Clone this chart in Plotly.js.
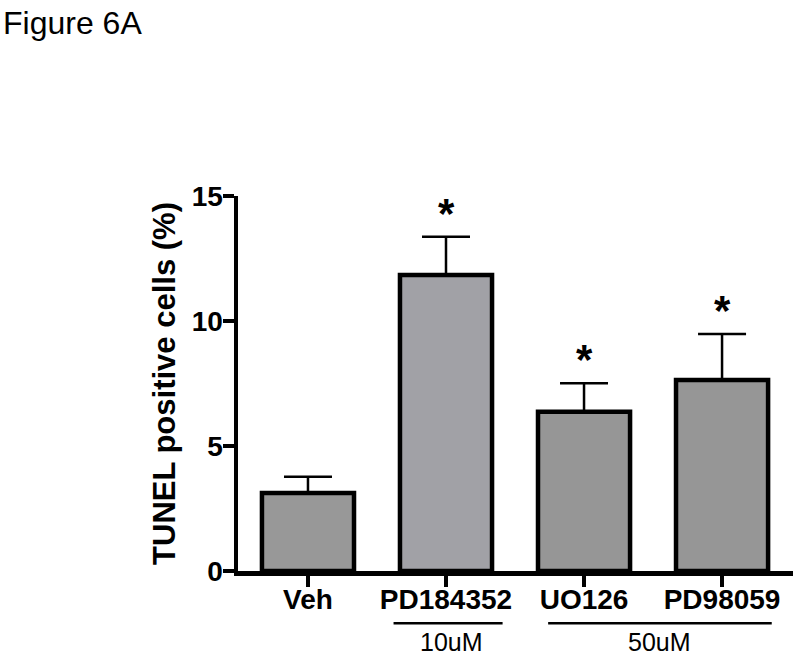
<!DOCTYPE html>
<html>
<head>
<meta charset="utf-8">
<script src="https://cdn.plot.ly/plotly-3.0.1.min.js"></script>
<style>html,body{margin:0;padding:0;background:#fff;}#chart{width:800px;height:656px;}</style>
</head>
<body>
<div id="chart"></div>
<script>
const categories = ["Veh", "PD184352", "UO126", "PD98059"];
const means = [3.12, 11.84, 6.37, 7.64];
const sems = [0.65, 1.53, 1.14, 1.84];
const significant = [false, true, true, true];
const barColors = ["#989898", "#a1a1a6", "#969696", "#969696"];
const yTicks = [0, 5, 10, 15];

const FONT = "Liberation Sans, Arial, sans-serif";
const xIdx = categories.map((c, i) => i);

const trace = {
  type: "bar",
  x: xIdx,
  y: means,
  width: 0.667,
  marker: { color: barColors, line: { color: "#000", width: 4.5 } },
  error_y: {
    type: "data", symmetric: false, array: sems, arrayminus: sems.map(() => 0),
    color: "#000", thickness: 2.5, width: 24
  },
  hoverinfo: "none"
};

const annotations = [];
categories.forEach((c, i) => {
  if (significant[i]) {
    annotations.push({
      x: i, y: means[i] + sems[i], xref: "x", yref: "y",
      text: "*", showarrow: false, yanchor: "bottom", yshift: -2,
      font: { family: FONT, size: 42, color: "#000", weight: "bold" }
    });
  }
});
annotations.push({
  x: 1.04, y: -0.19, xref: "x", yref: "paper", text: "10uM", showarrow: false,
  yanchor: "middle", font: { family: FONT, size: 25, color: "#000" }
});
annotations.push({
  x: 2.55, y: -0.19, xref: "x", yref: "paper", text: "50uM", showarrow: false,
  yanchor: "middle", font: { family: FONT, size: 25, color: "#000" }
});
annotations.push({
  x: 0, y: 1.516, xref: "paper", yref: "paper", text: "Figure 6A", showarrow: false,
  xanchor: "left", yanchor: "top", xshift: -237,
  font: { family: FONT, size: 32, color: "#000" }
});

const layout = {
  width: 800, height: 656,
  margin: { l: 238, r: 7, t: 196, b: 85 },
  paper_bgcolor: "#fff", plot_bgcolor: "#fff",
  showlegend: false,
  xaxis: {
    range: [-0.507, 3.514], tickmode: "array", tickvals: xIdx, ticktext: categories,
    showline: true, linecolor: "#000", linewidth: 4.5, ticks: "outside", ticklen: 11,
    tickwidth: 4, tickcolor: "#000", showgrid: false, zeroline: false, fixedrange: true,
    ticklabelstandoff: -11,
    tickfont: { family: FONT, size: 28, color: "#000", weight: "bold" }
  },
  yaxis: {
    range: [0, 15], tickmode: "array", tickvals: yTicks, ticktext: yTicks.map(String),
    showline: true, linecolor: "#000", linewidth: 4.5, ticks: "outside", ticklen: 11,
    tickwidth: 4, tickcolor: "#000", showgrid: false, zeroline: false, fixedrange: true,
    ticklabelstandoff: -6,
    tickfont: { family: FONT, size: 28, color: "#000", weight: "bold" },
    title: { text: "TUNEL positive cells (%)", standoff: 8,
      font: { family: FONT, size: 31, color: "#000", weight: "bold" } }
  },
  shapes: [
    { type: "line", xref: "x", yref: "paper", x0: 0.62, x1: 1.41, y0: -0.139, y1: -0.139,
      line: { color: "#000", width: 2.5 } },
    { type: "line", xref: "x", yref: "paper", x0: 1.74, x1: 3.36, y0: -0.139, y1: -0.139,
      line: { color: "#000", width: 2.5 } }
  ],
  annotations: annotations
};

Plotly.newPlot("chart", [trace], layout, { displayModeBar: false, staticPlot: true });
</script>
</body>
</html>
